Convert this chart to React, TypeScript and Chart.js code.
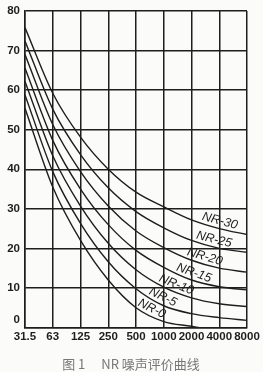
import React, { useEffect, useRef } from "react";
import { Chart, registerables } from "chart.js";

Chart.register(...registerables);

const freqLabels = ["31.5", "63", "125", "250", "500", "1000", "2000", "4000", "8000"];
const yTicks = [0, 10, 20, 30, 40, 50, 60, 70, 80];

const nr0 = [55.4, 35.5, 22.0, 12.0, 5.0, 1.5, 0.3, -1.0, -2.0];
const nr5 = [58.8, 39.4, 26.3, 16.6, 9.8, 5.5, 3.5, 2.5, 1.8];
const nr10 = [62.2, 43.4, 30.7, 21.3, 14.6, 10.2, 7.5, 6.0, 5.3];
const nr15 = [65.6, 47.3, 35.0, 26.0, 19.5, 15.2, 12.0, 10.3, 9.5];
const nr20 = [69.0, 51.3, 39.4, 30.7, 24.4, 20.2, 17.0, 15.0, 14.0];
const nr25 = [72.4, 55.2, 43.7, 35.3, 29.3, 25.2, 22.0, 20.0, 19.0];
const nr30 = [75.8, 59.2, 48.1, 40.0, 34.2, 30.5, 27.2, 25.0, 23.5];

const seriesNames = ["NR-0", "NR-5", "NR-10", "NR-15", "NR-20", "NR-25", "NR-30"];
const seriesValues = [nr0, nr5, nr10, nr15, nr20, nr25, nr30];

// where along each curve its name is written (band index)
const labelAt = [4.45, 4.85, 5.35, 6.0, 6.4, 6.75, 6.95];

const caption = "图 1　 NR 噪声评价曲线";

const INK = "#1e1e1e";
const TICK_FONT = "bold 11.5px 'Liberation Sans', Arial, sans-serif";

function bez(a: number, b: number, c: number, d: number, t: number) {
  const u = 1 - t;
  return u * u * u * a + 3 * u * u * t * b + 3 * u * t * t * c + t * t * t * d;
}
function bezD(a: number, b: number, c: number, d: number, t: number) {
  const u = 1 - t;
  return 3 * u * u * (b - a) + 6 * u * t * (c - b) + 3 * t * t * (d - c);
}

export default function App() {
  const ref = useRef<HTMLCanvasElement | null>(null);

  useEffect(() => {
    document.body.style.margin = "0";
    const canvas = ref.current;
    if (!canvas) return;

    const labelPlugin = {
      id: "curveLabels",
      afterDatasetsDraw(chart: any) {
        const ctx = chart.ctx;
        const xs = chart.scales.x;
        ctx.save();
        ctx.fillStyle = INK;
        ctx.font = "italic 12.5px 'Liberation Sans', Arial, sans-serif";
        ctx.textAlign = "center";
        ctx.textBaseline = "middle";
        for (let i = 0; i < seriesNames.length; i++) {
          const pts = chart.getDatasetMeta(i).data;
          const j = Math.min(Math.floor(labelAt[i]), pts.length - 2);
          const p0 = pts[j];
          const p1 = pts[j + 1];
          const x0 = p0.x, y0 = p0.y, x3 = p1.x, y3 = p1.y;
          const x1 = p0.cp2x ?? x0, y1 = p0.cp2y ?? y0;
          const x2 = p1.cp1x ?? x3, y2 = p1.cp1y ?? y3;
          const target = xs.getPixelForValue(labelAt[i]);
          let lo = 0, hi = 1;
          for (let k = 0; k < 40; k++) {
            const mid = (lo + hi) / 2;
            if (bez(x0, x1, x2, x3, mid) < target) lo = mid;
            else hi = mid;
          }
          const t = (lo + hi) / 2;
          const cx = bez(x0, x1, x2, x3, t);
          const cy = bez(y0, y1, y2, y3, t);
          const dx = bezD(x0, x1, x2, x3, t);
          const dy = bezD(y0, y1, y2, y3, t);
          const ang = Math.atan2(dy, dx);
          const off = 7.5;
          // normal pointing upward (negative y)
          const nx = Math.sin(ang);
          const ny = -Math.cos(ang);
          ctx.save();
          ctx.translate(cx + nx * off, cy + ny * off);
          ctx.rotate(ang);
          ctx.fillText(seriesNames[i], 0, 0);
          ctx.restore();
        }
        ctx.restore();
      },
      afterDraw(chart: any) {
        const ctx = chart.ctx;
        const ys = chart.scales.y;
        const area = chart.chartArea;
        ctx.save();
        ctx.fillStyle = INK;
        ctx.font = TICK_FONT;
        ctx.textAlign = "right";
        ctx.textBaseline = "middle";
        for (const v of yTicks) {
          let py = ys.getPixelForValue(v);
          if (v === 0) py -= 8;
          ctx.fillText(String(v), area.left - 5, py);
        }
        ctx.fillStyle = "#777";
        ctx.font = "13px 'Noto Sans CJK SC', serif";
        ctx.textAlign = "center";
        ctx.fillText(caption, 131, 364);
        ctx.restore();
      },
    };

    const chart = new Chart(canvas, {
      type: "line",
      data: {
        datasets: seriesValues.map((vals, i) => ({
          label: seriesNames[i],
          data: vals.map((v, j) => ({ x: j, y: v })),
          borderColor: INK,
          borderWidth: 1.4,
          pointRadius: 0,
          fill: false,
          cubicInterpolationMode: "monotone" as const,
        })),
      },
      options: {
        animation: false,
        responsive: false,
        maintainAspectRatio: false,
        layout: { padding: { top: 11, right: 16, left: 0, bottom: 0 } },
        plugins: {
          legend: { display: false },
          tooltip: { enabled: false },
          title: { display: false },
        },
        scales: {
          x: {
            type: "linear",
            min: 0,
            max: freqLabels.length - 1,
            afterFit: (s: any) => {
              s.height = 44.5;
            },
            afterBuildTicks: (s: any) => {
              s.ticks = freqLabels.map((_, i) => ({ value: i }));
            },
            ticks: {
              callback: (v: any) => freqLabels[Math.round(Number(v))],
              color: INK,
              font: { family: "'Liberation Sans', Arial, sans-serif", size: 11.5, weight: "bold" },
              padding: 2,
              maxRotation: 0,
              autoSkip: false,
            },
            grid: { color: INK, lineWidth: 1.5, drawTicks: false },
            border: { color: INK, width: 1.5 },
          },
          y: {
            type: "linear",
            min: 0,
            max: 80,
            afterFit: (s: any) => {
              s.width = 25;
            },
            afterBuildTicks: (s: any) => {
              s.ticks = yTicks.map((v) => ({ value: v }));
            },
            ticks: { display: false },
            grid: { color: INK, lineWidth: 1.5, drawTicks: false },
            border: { color: INK, width: 1.5 },
          },
        },
      },
      plugins: [labelPlugin],
    });

    return () => chart.destroy();
  }, []);

  return (
    <div style={{ position: "fixed", left: 0, top: 0, width: 263, height: 372, background: "#fbfbfa" }}>
      <canvas ref={ref} width={263} height={372} style={{ display: "block" }} />
    </div>
  );
}
